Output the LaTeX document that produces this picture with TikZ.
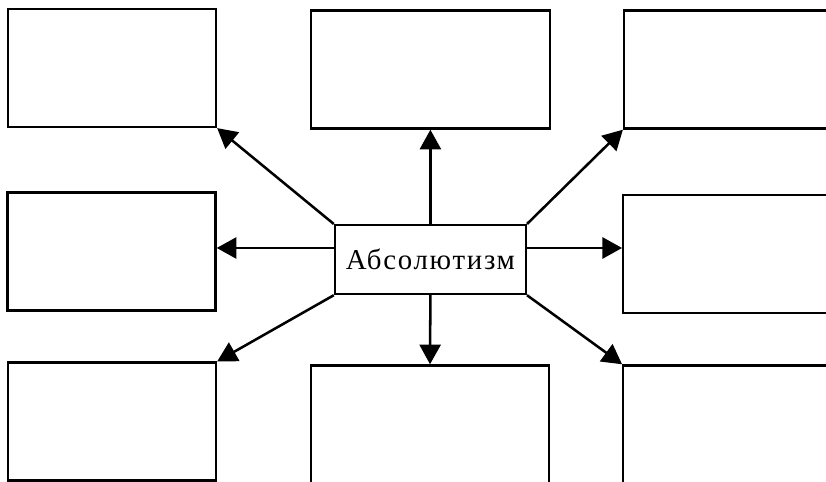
\documentclass[tikz,border=0pt]{standalone}
\usepackage{fontspec}
\newfontfamily\cyrfont[LetterSpace=6]{Liberation Serif}
\usetikzlibrary{arrows.meta}

\begin{document}
\begin{tikzpicture}[every node/.style={draw, line width=1.6pt, minimum width=5.2cm, minimum height=2.95cm},
	arr/.style={-{Triangle[length=14pt, width=15pt]}, line width=1.8pt}]

	\useasboundingbox (0,0) rectangle (20.65,12.05);
	% Top row
	\node (tl) at (2.80,10.35) {};
	\node[minimum width=5.975cm] (tm) at (10.76,10.31) {};
	\node (tr) at (18.20,10.31) {};
	% Middle row
	\node (ml) at (2.79,5.76) {};
	\node[minimum width=4.775cm, minimum height=1.725cm, font=\cyrfont\fontsize{20.5}{24}\selectfont] (c) at (10.76,5.56) {Абсолютизм};
	\node (mr) at (18.18,5.70) {};
	% Bottom row
	\node (bl) at (2.80,1.51) {};
	\node[minimum width=5.95cm] (bm) at (10.75,1.44) {};
	\node (br) at (18.18,1.44) {};

	% Arrows up
	\draw[arr] (c.north west) -- (tl.south east);
	\draw[arr] (c.north) -- (tm.south);
	\draw[arr] (c.north east) -- (tr.south west);
	% Arrows sideways
	\draw[arr] ([yshift=2.9mm]c.west) -- ([yshift=2.9mm]c.west -| ml.east);
	\draw[arr] ([yshift=2.9mm]c.east) -- ([yshift=2.9mm]c.east -| mr.west);
	% Arrows down
	\draw[arr] (c.south west) -- (bl.north east);
	\draw[arr] (c.south) -- (bm.north);
	\draw[arr] (c.south east) -- (br.north west);
\end{tikzpicture}
\end{document}
